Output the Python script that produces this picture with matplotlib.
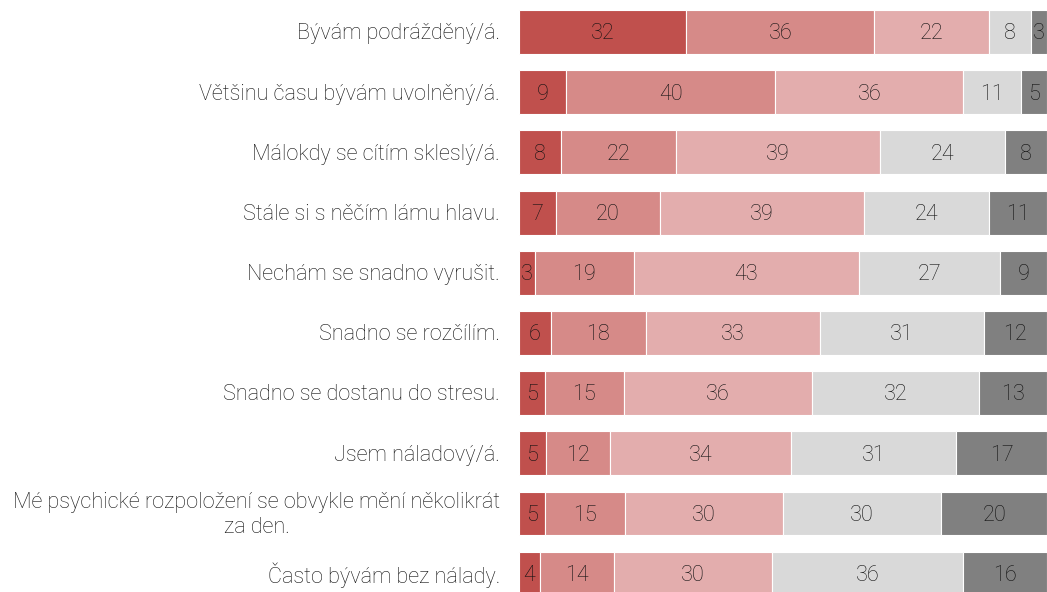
import matplotlib
matplotlib.use("Agg")
import matplotlib.pyplot as plt
import numpy as np

categories = [
    "Bývám podrážděný/á.",
    "Většinu času bývám uvolněný/á.",
    "Málokdy se cítím skleslý/á.",
    "Stále si s něčím lámu hlavu.",
    "Nechám se snadno vyrušit.",
    "Snadno se rozčílím.",
    "Snadno se dostanu do stresu.",
    "Jsem náladový/á.",
    "Mé psychické rozpoložení se obvykle mění několikrát\nza den.",
    "Často bývám bez nálady.",
]
s1 = [32, 9, 8, 7, 3, 6, 5, 5, 5, 4]
s2 = [36, 40, 22, 20, 19, 18, 15, 12, 15, 14]
s3 = [22, 36, 39, 39, 43, 33, 36, 34, 30, 30]
s4 = [8, 11, 24, 24, 27, 31, 32, 31, 30, 36]
s5 = [3, 5, 8, 11, 9, 12, 13, 17, 20, 16]
series = [s1, s2, s3, s4, s5]
colors = ["#c0504d", "#d68a88", "#e3adad", "#d9d9d9", "#808080"]

plt.rcParams['font.family'] = ['Roboto', 'DejaVu Sans']
fig = plt.figure(figsize=(10.47, 5.92), dpi=100)
ax = fig.add_axes([519/1047, 0, 528/1047, 1])
y = np.arange(len(categories))
totals = np.sum(np.array(series, dtype=float), axis=0)
left = np.zeros(len(categories))
for vals, c in zip(series, colors):
    vals = np.array(vals, dtype=float)
    w = vals / totals * 100
    ax.barh(y, w, left=left, height=0.73, color=c, edgecolor="white", linewidth=0.8)
    for yi, l, wi, v in zip(y, left, w, vals):
        ax.text(l + wi / 2, yi + 0.03, f"{int(v)}", ha="center", va="center",
                fontsize=15.6, color="#111111", fontweight="light")
    left += w
ax.set_xlim(0, 100)
ax.set_ylim(9.304, -0.532)
ax.axis("off")
for yi, cat in zip(y, categories):
    ax.text(-19.0 / 5.28, yi + 0.03, cat, ha="right", va="center", multialignment="center",
            fontsize=15.6, color="#111111", fontweight="light", linespacing=1.25,
            clip_on=False)
fig.savefig("out.png", dpi=100)
